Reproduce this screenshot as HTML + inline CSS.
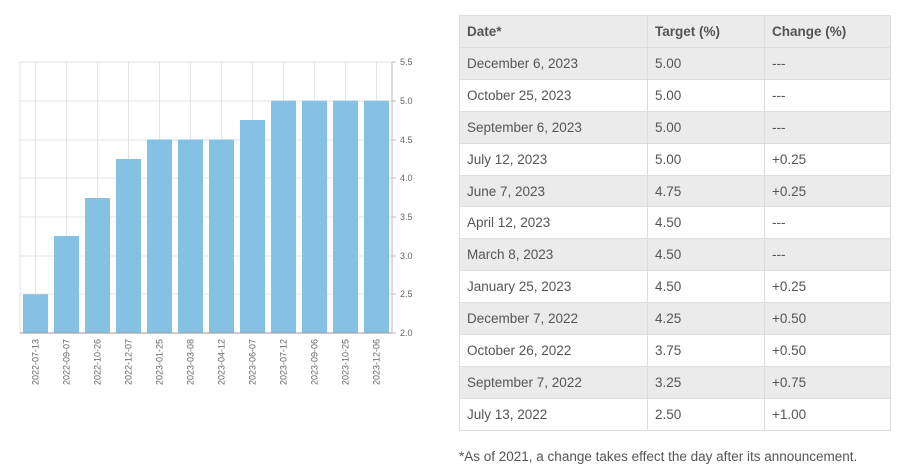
<!DOCTYPE html><html><head><style>
body{margin:0;width:900px;height:475px;background:#fff;font-family:"Liberation Sans",sans-serif;position:relative;overflow:hidden}
table{position:absolute;left:459px;top:15px;border-collapse:collapse;width:432px;font-size:13.5px;color:#555;table-layout:fixed}
td,th{border:1px solid #ddd;height:31.9px;padding:0 0 0 7px;text-align:left;box-sizing:border-box}
th{font-weight:bold;background:#ebebeb;height:32px}
tr:nth-child(even) td{background:#ebebeb}
.fn{position:absolute;left:459px;top:449px;font-size:13.5px;color:#555}
</style></head><body>
<svg width="440" height="420" style="position:absolute;left:0;top:0" font-family="Liberation Sans" font-size="9" fill="#666">
<g stroke="#e3e3e3" stroke-width="1">
<line x1="20" y1="62" x2="392" y2="62"/><line x1="20" y1="101" x2="392" y2="101"/><line x1="20" y1="140" x2="392" y2="140"/><line x1="20" y1="178" x2="392" y2="178"/><line x1="20" y1="217" x2="392" y2="217"/><line x1="20" y1="256" x2="392" y2="256"/><line x1="20" y1="294" x2="392" y2="294"/>
<line x1="20" y1="62" x2="20" y2="333"/>
<line x1="35.5" y1="62" x2="35.5" y2="333"/><line x1="66.5" y1="62" x2="66.5" y2="333"/><line x1="97.5" y1="62" x2="97.5" y2="333"/><line x1="128.5" y1="62" x2="128.5" y2="333"/><line x1="159.5" y1="62" x2="159.5" y2="333"/><line x1="190.5" y1="62" x2="190.5" y2="333"/><line x1="221.5" y1="62" x2="221.5" y2="333"/><line x1="252.5" y1="62" x2="252.5" y2="333"/><line x1="283.5" y1="62" x2="283.5" y2="333"/><line x1="314.5" y1="62" x2="314.5" y2="333"/><line x1="345.5" y1="62" x2="345.5" y2="333"/><line x1="376.5" y1="62" x2="376.5" y2="333"/>
</g>
<g fill="#85c1e2">
<rect x="23" y="294.3" width="25" height="38.7"/>
<rect x="54" y="236" width="25" height="97"/>
<rect x="85" y="198" width="25" height="135"/>
<rect x="116" y="159" width="25" height="174"/>
<rect x="147" y="139.5" width="25" height="193.5"/>
<rect x="178" y="139.5" width="25" height="193.5"/>
<rect x="209" y="139.5" width="25" height="193.5"/>
<rect x="240" y="120" width="25" height="213"/>
<rect x="271" y="100.7" width="25" height="232.3"/>
<rect x="302" y="100.7" width="25" height="232.3"/>
<rect x="333" y="100.7" width="25" height="232.3"/>
<rect x="364" y="100.7" width="25" height="232.3"/>
</g>
<line x1="20" y1="333" x2="392" y2="333" stroke="#999"/>
<line x1="392" y1="62" x2="392" y2="333" stroke="#bbb"/>
<g stroke="#bbb"><line x1="392" y1="62" x2="396" y2="62"/><line x1="392" y1="101" x2="396" y2="101"/><line x1="392" y1="140" x2="396" y2="140"/><line x1="392" y1="178" x2="396" y2="178"/><line x1="392" y1="217" x2="396" y2="217"/><line x1="392" y1="256" x2="396" y2="256"/><line x1="392" y1="294" x2="396" y2="294"/><line x1="392" y1="333" x2="396" y2="333"/></g>
<g><text x="400" y="65">5.5</text><text x="400" y="104">5.0</text><text x="400" y="143">4.5</text><text x="400" y="181">4.0</text><text x="400" y="220">3.5</text><text x="400" y="259">3.0</text><text x="400" y="297">2.5</text><text x="400" y="336">2.0</text></g>
<g text-anchor="end">
<text transform="translate(38.5,339) rotate(-90)">2022-07-13</text>
<text transform="translate(69.5,339) rotate(-90)">2022-09-07</text>
<text transform="translate(100.5,339) rotate(-90)">2022-10-26</text>
<text transform="translate(131.5,339) rotate(-90)">2022-12-07</text>
<text transform="translate(162.5,339) rotate(-90)">2023-01-25</text>
<text transform="translate(193.5,339) rotate(-90)">2023-03-08</text>
<text transform="translate(224.5,339) rotate(-90)">2023-04-12</text>
<text transform="translate(255.5,339) rotate(-90)">2023-06-07</text>
<text transform="translate(286.5,339) rotate(-90)">2023-07-12</text>
<text transform="translate(317.5,339) rotate(-90)">2023-09-06</text>
<text transform="translate(348.5,339) rotate(-90)">2023-10-25</text>
<text transform="translate(379.5,339) rotate(-90)">2023-12-06</text>
</g>
</svg>
<table>
<tr><th style="width:188px">Date*</th><th style="width:117px">Target (%)</th><th>Change (%)</th></tr>
<tr><td>December 6, 2023</td><td>5.00</td><td>---</td></tr>
<tr><td>October 25, 2023</td><td>5.00</td><td>---</td></tr>
<tr><td>September 6, 2023</td><td>5.00</td><td>---</td></tr>
<tr><td>July 12, 2023</td><td>5.00</td><td>+0.25</td></tr>
<tr><td>June 7, 2023</td><td>4.75</td><td>+0.25</td></tr>
<tr><td>April 12, 2023</td><td>4.50</td><td>---</td></tr>
<tr><td>March 8, 2023</td><td>4.50</td><td>---</td></tr>
<tr><td>January 25, 2023</td><td>4.50</td><td>+0.25</td></tr>
<tr><td>December 7, 2022</td><td>4.25</td><td>+0.50</td></tr>
<tr><td>October 26, 2022</td><td>3.75</td><td>+0.50</td></tr>
<tr><td>September 7, 2022</td><td>3.25</td><td>+0.75</td></tr>
<tr><td>July 13, 2022</td><td>2.50</td><td>+1.00</td></tr>
</table>
<div class="fn">*As of 2021, a change takes effect the day after its announcement.</div>
</body></html>
